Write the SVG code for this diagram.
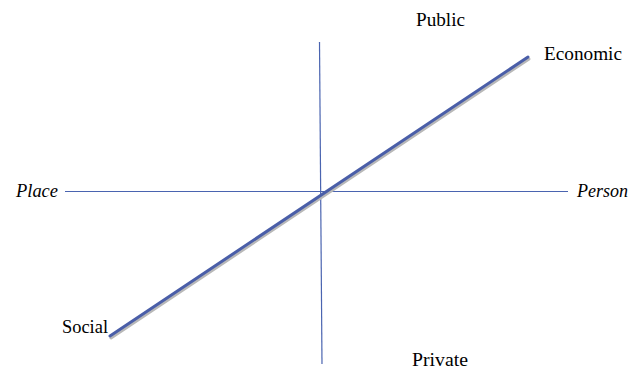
<svg xmlns="http://www.w3.org/2000/svg" width="642" height="369" viewBox="0 0 642 369">
<style>
text{font-family:"Liberation Serif","DejaVu Serif",serif;font-size:19px;fill:#000}
.it{font-style:italic}
.ax{stroke:#4a64b0;stroke-width:1.2;fill:none}
.dg{stroke:#4a5ea8;stroke-width:3;fill:none;stroke-linecap:round}
.sh{stroke:#b8b8b8;stroke-width:3;fill:none;stroke-linecap:round}
</style>
<rect width="642" height="369" fill="#fff"/>
<g id="connectors">
<line class="ax" x1="319.5" y1="42" x2="322" y2="364"/>
<line class="ax" x1="65" y1="191.5" x2="568" y2="191.5"/>
<line class="sh" x1="111" y1="338" x2="529" y2="59"/>
<line class="dg" x1="110" y1="336" x2="528" y2="57"/>
</g>
<g id="public"><text x="416" y="26" textLength="49" lengthAdjust="spacingAndGlyphs">Public</text></g>
<g id="economic"><text x="544" y="60" textLength="78" lengthAdjust="spacingAndGlyphs">Economic</text></g>
<g id="place"><text class="it" x="16" y="197" textLength="42" lengthAdjust="spacingAndGlyphs">Place</text></g>
<g id="person"><text class="it" x="577" y="197" textLength="51" lengthAdjust="spacingAndGlyphs">Person</text></g>
<g id="social"><text x="62" y="333" textLength="46" lengthAdjust="spacingAndGlyphs">Social</text></g>
<g id="private"><text x="412" y="366" textLength="56" lengthAdjust="spacingAndGlyphs">Private</text></g>
</svg>
